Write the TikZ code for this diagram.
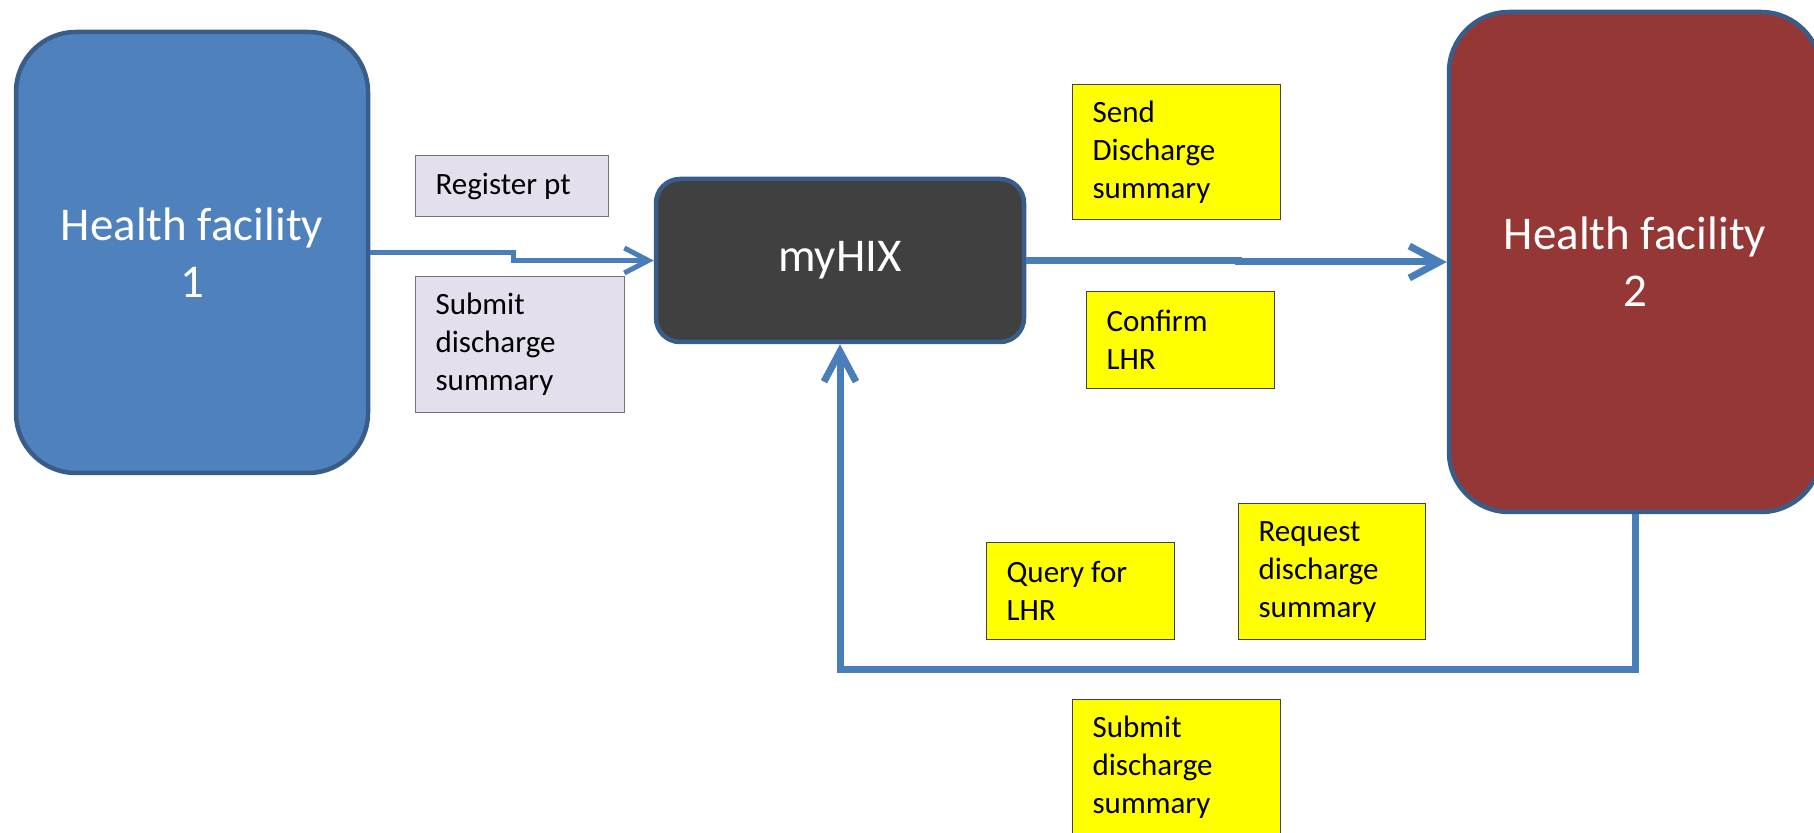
\documentclass[tikz,border=0pt]{standalone}
\usepackage{fontspec}
\setmainfont{Carlito}
\usepackage{tikz}
\usetikzlibrary{arrows.meta}
\usetikzlibrary{calc}
\definecolor{hfblue}{RGB}{79,129,189}
\definecolor{hfred}{RGB}{149,55,53}
\definecolor{hixgray}{RGB}{64,64,64}
\definecolor{rimblue}{RGB}{56,93,138}
\definecolor{flowblue}{RGB}{74,126,187}
\definecolor{msglilac}{RGB}{228,223,236}
\definecolor{msgyellow}{RGB}{255,255,0}

\begin{document}
\begin{tikzpicture}[x=0.5pt,y=-0.5pt]
	\useasboundingbox (0,0) rectangle (1814,833);

	\begin{scope}[every node/.style={draw=rimblue,line width=2.25pt,rounded corners=30pt,text=white,align=flush center,
	              font=\fontsize{23.5}{28.5}\selectfont}]
	    \node (hf1) [fill=hfblue,minimum width=176pt,minimum height=220.5pt] at (192,252.5) {Health facility\\1};
	    \node (hix) [fill=hixgray,rounded corners=12pt,minimum width=184pt,minimum height=81.5pt] at (840,260.5) {myHIX};
	    \node (hf2) [fill=hfred,minimum width=186pt,minimum height=250pt] at (1635,262) {Health facility\\2};
	\end{scope}

	\begin{scope}[every node/.style={draw=black!75,line width=0.6pt,fill=msgyellow,anchor=north west,inner xsep=10pt,
	              align=flush left,font=\fontsize{15.5}{19}\selectfont}]
	    \node (reg) [fill=msglilac,draw=black!55,text width=76.5pt,minimum height=30.5pt] at (415,155) {Register pt};
	    \node (sub1) [fill=msglilac,draw=black!55,text width=84.5pt,minimum height=68pt] at (415,276) {Submit\\discharge\\summary};
	    \node (send) [text width=84pt,minimum height=67.5pt] at (1072,84) {Send\\Discharge\\summary};
	    \node (conf) [text width=74pt,minimum height=48.5pt] at (1086,291) {Confirm\\LHR};
	    \node (query) [text width=74pt,minimum height=48.5pt] at (986,542) {Query for\\LHR};
	    \node (req) [text width=73.5pt,minimum height=68pt] at (1238,503) {Request\\discharge\\summary};
	    \node (sub2) [text width=84pt,minimum height=68pt] at (1072,699) {Submit\\discharge\\summary};
	\end{scope}

	\begin{scope}[draw=flowblue,line width=3.5pt,>={Straight Barb[length=15pt,width=16pt]}]
	    \draw [->,line width=2.5pt,>={Straight Barb[length=12pt,width=12.5pt]}] (hf1.east) -- ++(143,0) |- (hix.west);
	    \draw [->] (hix.east) -- ++(212,0) |- (hf2.west);
	    \draw [->] (hf2.south) -- ++(0,155) -| (hix.south);
	\end{scope}
\end{tikzpicture}
\end{document}
